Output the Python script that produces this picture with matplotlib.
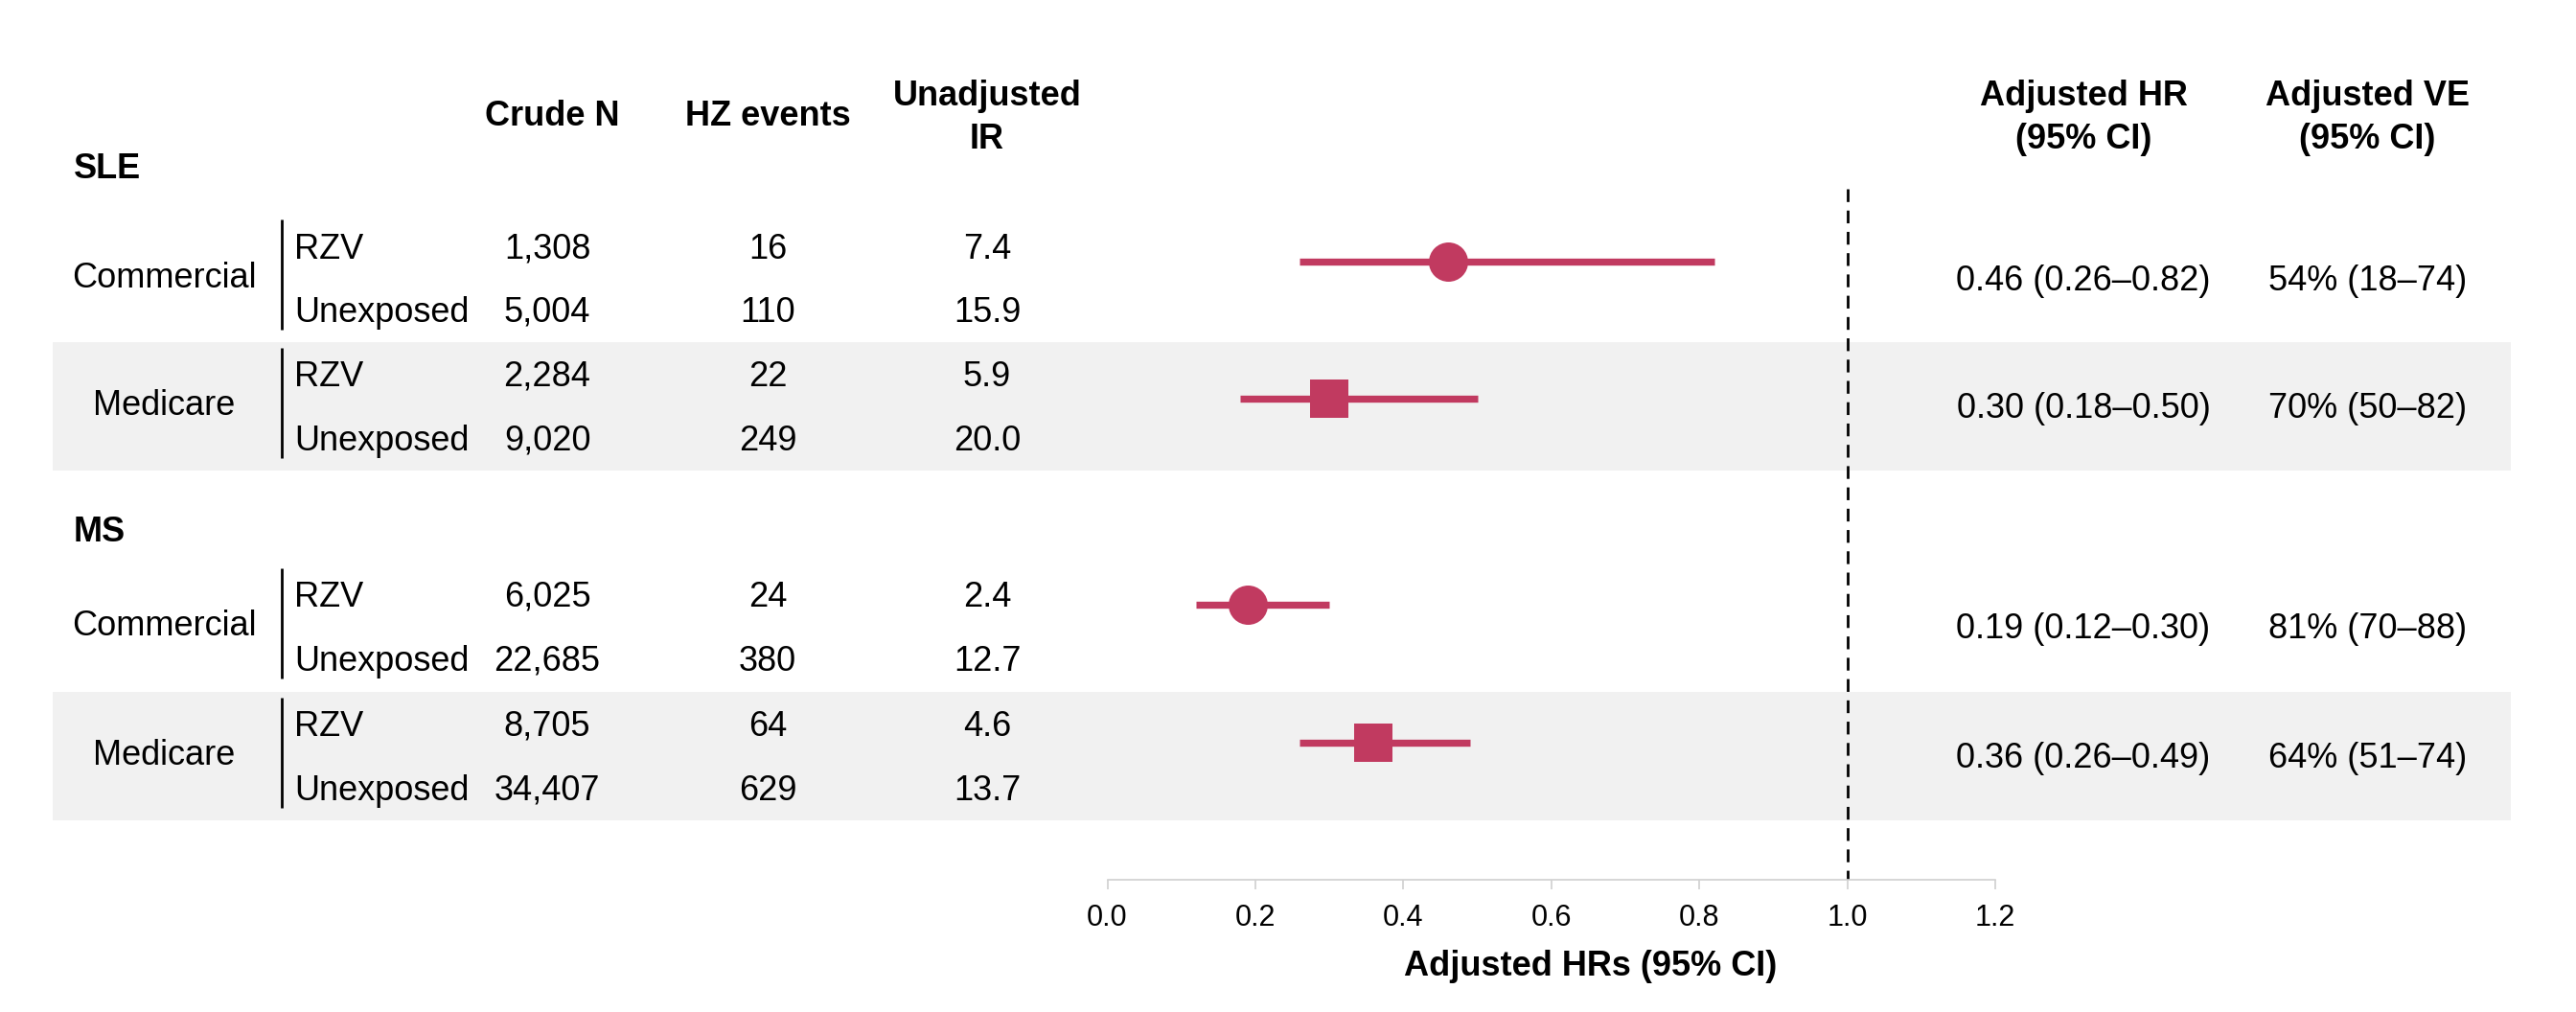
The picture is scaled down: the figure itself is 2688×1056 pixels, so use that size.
import matplotlib
matplotlib.use('Agg')
import matplotlib.pyplot as plt

plt.rcParams['font.family'] = ['Liberation Sans', 'DejaVu Sans']

# ---- data ----
diseases = ['SLE', 'MS']
payers = ['Commercial', 'Medicare', 'Commercial', 'Medicare']
exposures = ['RZV', 'Unexposed']

crude_n = [1308, 5004, 2284, 9020, 6025, 22685, 8705, 34407]
hz_events = [16, 110, 22, 249, 24, 380, 64, 629]
unadj_ir = [7.4, 15.9, 5.9, 20.0, 2.4, 12.7, 4.6, 13.7]

hr = [0.46, 0.30, 0.19, 0.36]
hr_lo = [0.26, 0.18, 0.12, 0.26]
hr_hi = [0.82, 0.50, 0.30, 0.49]
ve = [54, 70, 81, 64]
ve_lo = [18, 50, 70, 51]
ve_hi = [74, 82, 88, 74]
markers = ['o', 's', 'o', 's']

xticks = [0.0, 0.2, 0.4, 0.6, 0.8, 1.0, 1.2]

# ---- layout (pixel positions on a 2688 x 1056 canvas, y from top) ----
W, H = 2688, 1056
row_y = [257, 323, 390, 457, 620, 687, 755, 822]
group_y = [(row_y[2 * i] + row_y[2 * i + 1]) / 2 for i in range(4)]
disease_y = [173, 552]
forest_y = [273, 416, 631, 775]
band_groups = [1, 3]

color = '#C13A60'
band_color = '#F1F1F1'
fs = 26


def put(x, y, s, ha='center', bold=False, size=fs):
    # y is the visual centre of capital letters
    bg.text(x, y + 0.358 * size * 100 / 72, s, ha=ha, va='baseline',
            fontsize=size, fontweight='bold' if bold else 'normal',
            color='black')


fig = plt.figure(figsize=(W / 100, H / 100), dpi=100)
fig.patch.set_facecolor('white')

bg = fig.add_axes([0, 0, 1, 1])
bg.set_xlim(0, W)
bg.set_ylim(H, 0)
bg.axis('off')

# shaded bands behind the Medicare groups
for g in band_groups:
    bg.axhspan(group_y[g] - 67, group_y[g] + 67, xmin=55 / W, xmax=2620 / W,
               color=band_color, lw=0, zorder=0)

# column headers
headers = [(576, 'Crude N'), (801, 'HZ events'), (1030, 'Unadjusted\nIR'),
           (2174, 'Adjusted HR\n(95% CI)'), (2470, 'Adjusted VE\n(95% CI)')]
for x, h in headers:
    lines = h.split('\n')
    if len(lines) == 1:
        put(x, 118, lines[0], bold=True)
    else:
        put(x, 97, lines[0], bold=True)
        put(x, 142, lines[1], bold=True)

# disease headers
for d, y in zip(diseases, disease_y):
    put(77, y, d, ha='left', bold=True)

# group labels, brackets, rows
for g in range(4):
    gy = group_y[g]
    put(171, gy - 3, payers[g])
    bg.plot([294, 294], [gy - 61, gy + 54], color='black', lw=2.0,
            solid_capstyle='butt')
    for k in range(2):
        i = 2 * g + k
        y = row_y[i]
        put(307, y, exposures[k], ha='left')
        put(571, y, f'{crude_n[i]:,}')
        put(801, y, str(hz_events[i]))
        put(1030, y, f'{unadj_ir[i]:.1f}')
    put(2174, gy, f'{hr[g]:.2f} ({hr_lo[g]:.2f}\u2013{hr_hi[g]:.2f})')
    put(2471, gy, f'{ve[g]}% ({ve_lo[g]}\u2013{ve_hi[g]})')

# ---- forest plot ----
x0, x1 = 1155.5, 2082
top, bottom = 190, 918
ax = fig.add_axes([x0 / W, (H - bottom) / H, (x1 - x0) / W, (bottom - top) / H])
ax.set_facecolor('none')
ax.set_xlim(0, 1.2)
ax.set_ylim(bottom, top)

for g in range(4):
    ax.plot([hr_lo[g], hr_hi[g]], [forest_y[g], forest_y[g]], color=color,
            lw=5.3, solid_capstyle='butt', zorder=3)
    ax.plot(hr[g], forest_y[g], marker=markers[g], color=color,
            markersize=29.5, markeredgewidth=0, zorder=4)

ax.plot([1.0, 1.0], [197, bottom], color='black', lw=2.0,
        linestyle=(0, (4.8, 3.2)), zorder=2)

for s in ['top', 'right', 'left']:
    ax.spines[s].set_visible(False)
ax.spines['bottom'].set_color('#d0d0d0')
ax.spines['bottom'].set_linewidth(1.2)
ax.set_yticks([])
ax.set_xticks(xticks)
ax.set_xticklabels([f'{t:.1f}' for t in xticks])
ax.tick_params(axis='x', colors='#d0d0d0', labelcolor='black', length=7.2,
               width=1.2, labelsize=22, pad=11)

put(1660, 1005, 'Adjusted HRs (95% CI)', bold=True)

fig.savefig('out.png', dpi=100, facecolor='white')
